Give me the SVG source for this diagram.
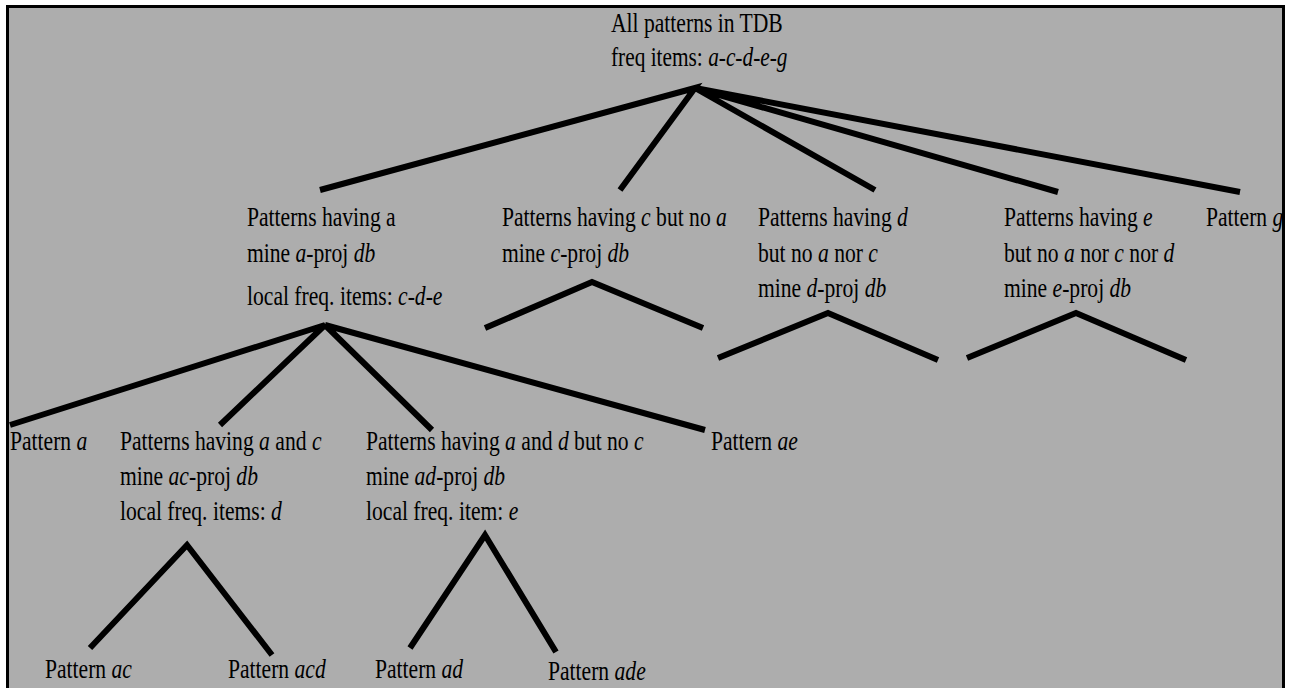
<svg xmlns="http://www.w3.org/2000/svg" width="1291" height="688" viewBox="0 0 1291 688">
<style>
text{font-family:"Liberation Serif","Times New Roman",serif;font-size:27px;fill:#000}
.i{font-style:italic}
.e{stroke:#000;stroke-width:6;fill:none;stroke-linecap:butt;stroke-linejoin:miter}
</style>
<rect x="0" y="0" width="1291" height="688" fill="#fff"/>
<rect x="7.5" y="6.5" width="1276" height="700" fill="#adadad" stroke="#000" stroke-width="3"/>
<g id="connectors">
<path class="e" d="M320,190 L695,88 L620,190 M695,88 L875,190 M695,88 L1058,192 M695,88 L1240,192"/>
<path class="e" d="M10,425 L325,325 L220,425 M325,325 L432,430 M325,325 L705,430"/>
<path class="e" d="M485,328 L592,282 L703,328"/>
<path class="e" d="M718,358 L828,313 L938,360"/>
<path class="e" d="M967,358 L1076,313 L1186,360"/>
<path class="e" d="M90,648 L187,545 L272,655"/>
<path class="e" d="M410,648 L485,535 L556,652"/>
</g>
<g id="root">
<text transform="translate(611,32) scale(0.8,1)">All patterns in TDB</text>
<text transform="translate(611,66) scale(0.79,1)">freq items: <tspan class="i">a-c-d-e-g</tspan></text>
</g>
<g id="node-a">
<text transform="translate(247,226) scale(0.8,1)">Patterns having a</text>
<text transform="translate(247,262) scale(0.8,1)">mine <tspan class="i">a</tspan>-proj <tspan class="i">db</tspan></text>
<text transform="translate(247,305) scale(0.8,1)">local freq. items: <tspan class="i">c-d-e</tspan></text>
</g>
<g id="node-c">
<text transform="translate(502,226) scale(0.8,1)">Patterns having <tspan class="i">c</tspan> but no <tspan class="i">a</tspan></text>
<text transform="translate(502,262) scale(0.8,1)">mine <tspan class="i">c</tspan>-proj <tspan class="i">db</tspan></text>
</g>
<g id="node-d">
<text transform="translate(758,226) scale(0.8,1)">Patterns having <tspan class="i">d</tspan></text>
<text transform="translate(758,262) scale(0.8,1)">but no <tspan class="i">a</tspan> nor <tspan class="i">c</tspan></text>
<text transform="translate(758,297) scale(0.8,1)">mine <tspan class="i">d</tspan>-proj <tspan class="i">db</tspan></text>
</g>
<g id="node-e">
<text transform="translate(1004,226) scale(0.8,1)">Patterns having <tspan class="i">e</tspan></text>
<text transform="translate(1004,262) scale(0.8,1)">but no <tspan class="i">a</tspan> nor <tspan class="i">c</tspan> nor <tspan class="i">d</tspan></text>
<text transform="translate(1004,297) scale(0.8,1)">mine <tspan class="i">e</tspan>-proj <tspan class="i">db</tspan></text>
</g>
<g id="node-g">
<text transform="translate(1206,226) scale(0.8,1)">Pattern <tspan class="i">g</tspan></text>
</g>
<g id="node-pa">
<text transform="translate(10,450) scale(0.8,1)">Pattern <tspan class="i">a</tspan></text>
</g>
<g id="node-ac">
<text transform="translate(120,450) scale(0.8,1)">Patterns having <tspan class="i">a</tspan> and <tspan class="i">c</tspan></text>
<text transform="translate(120,485) scale(0.8,1)">mine <tspan class="i">ac</tspan>-proj <tspan class="i">db</tspan></text>
<text transform="translate(120,520) scale(0.8,1)">local freq. items: <tspan class="i">d</tspan></text>
</g>
<g id="node-ad">
<text transform="translate(366,450) scale(0.8,1)">Patterns having <tspan class="i">a</tspan> and <tspan class="i">d</tspan> but no <tspan class="i">c</tspan></text>
<text transform="translate(366,485) scale(0.8,1)">mine <tspan class="i">ad</tspan>-proj <tspan class="i">db</tspan></text>
<text transform="translate(366,520) scale(0.8,1)">local freq. item: <tspan class="i">e</tspan></text>
</g>
<g id="node-ae">
<text transform="translate(711,450) scale(0.8,1)">Pattern <tspan class="i">ae</tspan></text>
</g>
<g id="node-pac">
<text transform="translate(45,678) scale(0.8,1)">Pattern <tspan class="i">ac</tspan></text>
</g>
<g id="node-pacd">
<text transform="translate(228,678) scale(0.8,1)">Pattern <tspan class="i">acd</tspan></text>
</g>
<g id="node-pad">
<text transform="translate(375,678) scale(0.8,1)">Pattern <tspan class="i">ad</tspan></text>
</g>
<g id="node-pade">
<text transform="translate(548,680) scale(0.8,1)">Pattern <tspan class="i">ade</tspan></text>
</g>
</svg>
